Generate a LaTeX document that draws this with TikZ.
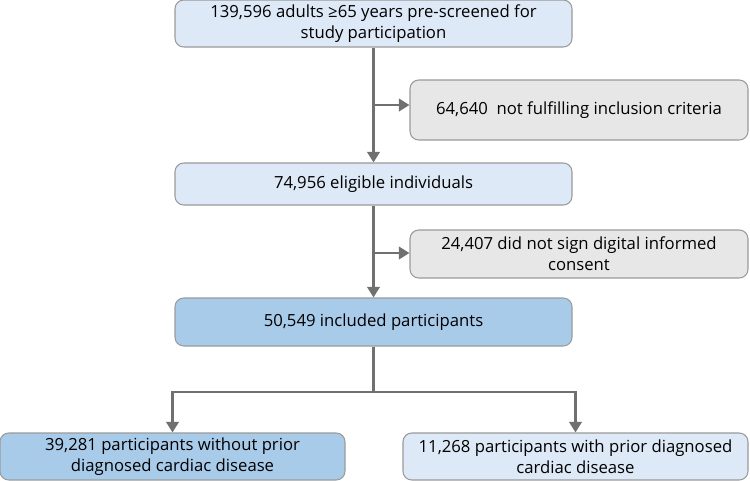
\documentclass[tikz,border=0pt]{standalone}
\usepackage{fontspec}
\setmainfont{Open Sans}
\usetikzlibrary{arrows.meta}
\definecolor{paleblue}{HTML}{DDE9F6}
\definecolor{midblue}{HTML}{A9CBEA}
\definecolor{palegrey}{HTML}{E7E7E7}
\definecolor{edgegrey}{HTML}{9A9A9A}
\definecolor{linegrey}{HTML}{707070}
\tikzset{
  flowbox/.style={
    rectangle, rounded corners=5pt, draw=edgegrey, line width=0.6pt,
    align=center, inner sep=2pt, font=\fontsize{9.5}{12}\selectfont
  },
  pale box/.style={flowbox, fill=paleblue},
  main box/.style={flowbox, fill=midblue},
  excl box/.style={flowbox, fill=palegrey},
  flow arrow/.style={
    draw=linegrey, line width=1.5pt,
    -{Triangle[length=6pt, width=7pt]}
  }
}

\begin{document}
\begin{tikzpicture}
\useasboundingbox (0,0) rectangle (15,-9.6);

% ---------------------------
% boxes
% ---------------------------
\node[pale box, minimum width=7.94cm, minimum height=0.94cm]
  (screen) at (7.47,-0.47) {139,596 adults ≥65 years pre-screened for\\study participation};
\node[excl box, minimum width=6.76cm, minimum height=1.2cm]
  (excl1) at (11.58,-2.2) {64,640\ \ not fulfilling inclusion criteria};
\node[pale box, minimum width=7.94cm, minimum height=0.84cm]
  (eligible) at (7.47,-3.68) {74,956 eligible individuals};
\node[excl box, minimum width=6.76cm, minimum height=0.96cm]
  (excl2) at (11.58,-5.08) {24,407 did not sign digital informed\\consent};
\node[main box, minimum width=7.94cm, minimum height=0.96cm]
  (included) at (7.47,-6.44) {50,549 included participants};
\node[main box, minimum width=6.9cm, minimum height=0.94cm]
  (nocardiac) at (3.45,-9.13) {39,281 participants without prior\\diagnosed cardiac disease};
\node[pale box, minimum width=6.9cm, minimum height=0.94cm]
  (cardiac) at (11.51,-9.13) {11,268 participants with prior diagnosed\\cardiac disease};

% ---------------------------
% connectors
% ---------------------------
\coordinate (b1) at (7.47,-2.1);
\coordinate (b2) at (7.47,-5.06);
\coordinate (split) at (7.47,-7.84);

\draw[flow arrow] (screen) -- (eligible);
\draw[flow arrow] (b1) -- (b1 -| excl1.west);
\draw[flow arrow] (eligible) -- (included);
\draw[flow arrow] (b2) -- (b2 -| excl2.west);
\draw[draw=linegrey, line width=1.5pt] (included) -- (split);
\draw[flow arrow] (split) -| (nocardiac.north);
\draw[flow arrow] (split) -| (cardiac.north);

\end{tikzpicture}
\end{document}
